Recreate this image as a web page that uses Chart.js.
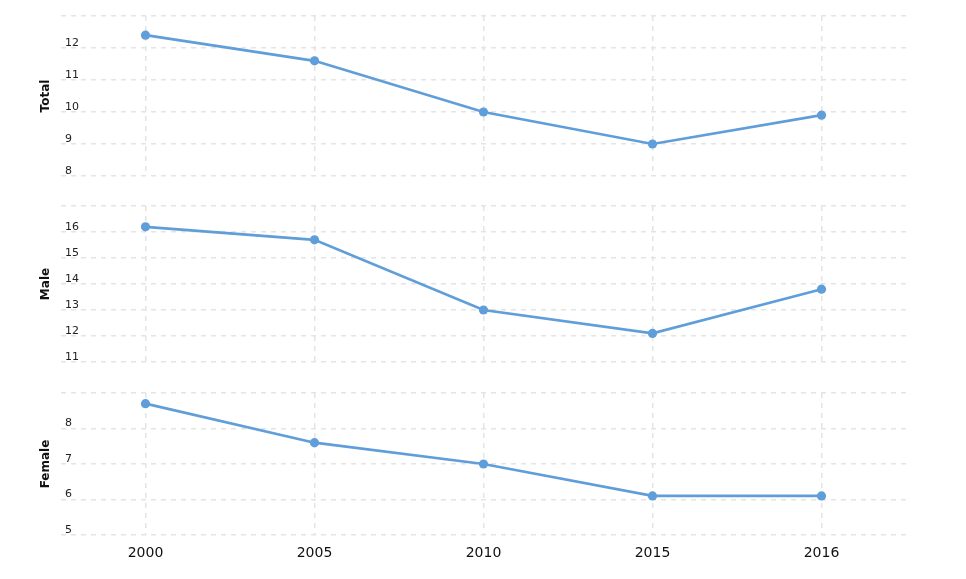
<!DOCTYPE html>
<html>
<head>
<meta charset="utf-8">
<script src="https://cdn.jsdelivr.net/npm/chart.js@4.4.0/dist/chart.umd.min.js"></script>
<style>
  html, body { margin: 0; padding: 0; background: #fff; }
  #wrap { position: relative; width: 966px; height: 579px; overflow: hidden; }
  canvas { position: absolute; left: 0; }
</style>
</head>
<body>
<div id="wrap">
  <canvas id="totalChart" width="966" height="196" style="top:0px"></canvas>
  <canvas id="maleChart" width="966" height="192" style="top:190px"></canvas>
  <canvas id="femaleChart" width="966" height="202" style="top:377px"></canvas>
</div>
<script>
const years = ['2000', '2005', '2010', '2015', '2016'];
const totalValues = [12.4, 11.6, 10.0, 9.0, 9.9];
const maleValues = [16.2, 15.7, 13.0, 12.1, 13.8];
const femaleValues = [8.7, 7.6, 7.0, 6.1, 6.1];

// y ranges per panel: [min, max]
const totalRange = [8, 13];
const maleRange = [11, 17];
const femaleRange = [5, 9];

const lineColor = 'rgb(96,158,218)';
const gridColor = '#e4e4e4';

function makePanel(canvasID, title, values, range, showYears) {
  let ctx = document.getElementById(canvasID).getContext('2d');
  return new Chart(ctx, {
    type: 'line',
    data: {
      labels: years,
      datasets: [
        {
          data: values,
          borderColor: lineColor,
          backgroundColor: lineColor,
          borderWidth: 2.7,
          pointRadius: 4.6,
          pointBorderWidth: 0,
          pointBackgroundColor: lineColor,
          tension: 0,
          fill: false,
          clip: false
        }
      ]
    },
    options: {
      responsive: false,
      animation: false,
      events: [],
      layout: {
        padding: { left: 0, right: 60, top: 16, bottom: showYears ? 0 : 20 }
      },
      plugins: {
        legend: { display: false },
        tooltip: { enabled: false }
      },
      scales: {
        x: {
          offset: true,
          border: { display: false, dash: [5, 5] },
          grid: {
            color: gridColor,
            lineWidth: 1.5,
            drawTicks: false,
            offset: false
          },
          ticks: {
            display: showYears,
            padding: 10,
            color: '#111',
            font: { family: 'DejaVu Sans', size: 14 }
          },
          afterFit: function (axis) {
            axis.height = showYears ? 44 : 0;
          }
        },
        y: {
          min: range[0],
          max: range[1],
          border: { display: false, dash: [5, 5] },
          grid: {
            color: gridColor,
            lineWidth: 1.5,
            drawTicks: false
          },
          ticks: {
            stepSize: 1,
            mirror: true,
            padding: 4,
            labelOffset: -5,
            color: '#222',
            font: { family: 'DejaVu Sans', size: 11 },
            callback: function (value) {
              return value === range[1] ? '' : value;
            }
          },
          title: {
            display: true,
            text: title,
            color: '#111',
            padding: { top: 39, bottom: 0 },
            font: { family: 'DejaVu Sans', size: 12, weight: 'bold' }
          },
          afterFit: function (axis) {
            axis.width = 61;
          }
        }
      }
    }
  });
}

makePanel('totalChart', 'Total', totalValues, totalRange, false);
makePanel('maleChart', 'Male', maleValues, maleRange, false);
makePanel('femaleChart', 'Female', femaleValues, femaleRange, true);
</script>
</body>
</html>
